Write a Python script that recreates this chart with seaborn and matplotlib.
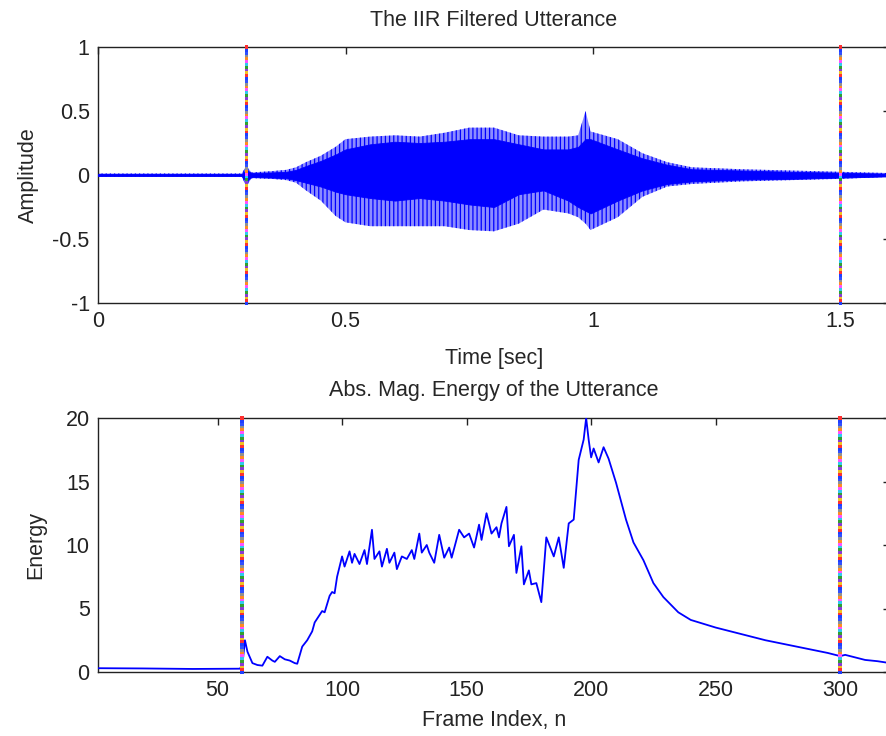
import numpy as np
import pandas as pd
import matplotlib
matplotlib.use("Agg")
import matplotlib.pyplot as plt
import seaborn as sns
from matplotlib.ticker import FormatStrFormatter

# ---------------- data ----------------
# top panel: envelope of the filtered utterance (time in seconds)
t_sec = [0.00, 0.29, 0.30, 0.31, 0.35, 0.38, 0.40, 0.42, 0.45, 0.48, 0.50,
         0.55, 0.60, 0.65, 0.70, 0.75, 0.80, 0.85, 0.90, 0.95, 0.97, 0.985,
         0.995, 1.05, 1.10, 1.15, 1.20, 1.30, 1.40, 1.50, 1.60]
upper_peak = [0.012, 0.012, 0.07, 0.02, 0.03, 0.04, 0.06, 0.10, 0.15, 0.22, 0.28,
              0.30, 0.31, 0.30, 0.33, 0.37, 0.37, 0.31, 0.30, 0.30, 0.31, 0.50,
              0.34, 0.28, 0.17, 0.10, 0.06, 0.045, 0.035, 0.025, 0.015]
lower_peak = [-0.012, -0.012, -0.09, -0.025, -0.03, -0.04, -0.06, -0.12, -0.20, -0.32, -0.37,
              -0.40, -0.40, -0.40, -0.40, -0.43, -0.44, -0.38, -0.27, -0.30, -0.33, -0.38,
              -0.43, -0.33, -0.17, -0.09, -0.07, -0.05, -0.04, -0.03, -0.015]
upper_core = [0.008, 0.008, 0.04, 0.015, 0.02, 0.025, 0.04, 0.07, 0.11, 0.16, 0.20,
              0.24, 0.26, 0.25, 0.26, 0.28, 0.28, 0.24, 0.20, 0.20, 0.22, 0.28,
              0.28, 0.20, 0.13, 0.08, 0.045, 0.035, 0.025, 0.018, 0.01]
lower_core = [-0.008, -0.008, -0.05, -0.015, -0.02, -0.025, -0.04, -0.06, -0.09, -0.13, -0.15,
              -0.18, -0.20, -0.18, -0.20, -0.23, -0.25, -0.15, -0.12, -0.20, -0.25, -0.28,
              -0.30, -0.20, -0.12, -0.07, -0.05, -0.035, -0.03, -0.02, -0.01]
time_markers = [0.3, 1.5]

# bottom panel: absolute magnitude energy per frame
frame_n = [1, 20, 40, 59, 60, 61, 62, 64, 66, 68, 70, 72, 73, 75, 77, 79, 81, 82,
           84, 86, 88, 89, 91, 92, 93, 95, 96, 97, 98, 99, 100, 101, 103, 104, 105,
           107, 109, 110, 112, 113, 115, 116, 118, 119, 121, 122, 124, 126, 128, 129,
           131, 132, 134, 135, 137, 139, 141, 143, 144, 147, 149, 151, 153, 155, 156,
           158, 160, 162, 163, 164, 166, 167, 169, 170, 172, 173, 175, 176, 178, 180,
           182, 185, 187, 189, 191, 193, 195, 197, 198, 199, 200, 201, 203, 205, 207,
           210, 214, 217, 221, 225, 229, 235, 240, 250, 260, 270, 280, 290, 295, 300,
           302, 305, 310, 315, 320]
energy = [0.30, 0.28, 0.24, 0.26, 0.6, 2.5, 1.6, 0.7, 0.55, 0.5, 1.2, 0.9, 0.8, 1.25, 1.0, 0.9, 0.7, 0.65,
          2.0, 2.5, 3.2, 3.9, 4.5, 4.8, 4.7, 6.0, 6.3, 6.2, 7.5, 8.3, 9.1, 8.3, 9.5, 8.6, 9.3,
          8.5, 9.6, 8.5, 11.2, 8.9, 9.5, 8.3, 9.7, 8.6, 9.4, 8.1, 9.1, 8.9, 9.6, 8.9,
          10.9, 9.4, 10.0, 9.4, 8.6, 10.8, 9.0, 9.8, 9.0, 11.2, 10.6, 10.9, 9.8, 11.6, 10.4,
          12.5, 10.9, 11.4, 10.6, 11.7, 13.0, 9.9, 10.8, 7.8, 9.9, 6.9, 8.0, 6.9, 7.0, 5.5,
          10.6, 9.1, 10.6, 8.2, 11.7, 12.0, 16.7, 18.3, 20.0, 18.3, 16.9, 17.6, 16.5, 17.7, 16.8,
          14.9, 12.0, 10.2, 8.8, 7.0, 5.9, 4.7, 4.1, 3.5, 3.0, 2.5, 2.1, 1.7, 1.5, 1.25,
          1.35, 1.2, 0.95, 0.85, 0.7]
frame_markers = [60, 300]

top_xticks = [0, 0.5, 1, 1.5]
top_yticks = [-1, -0.5, 0, 0.5, 1]
bot_xticks = [50, 100, 150, 200, 250, 300]
bot_yticks = [0, 5, 10, 15, 20]

marker_colors = ["#1f3fff", "#ff3030", "#f0c020", "#8a3ad2", "#30a030", "#30c8f0",
                 "#ff50ff", "#ff8a20", "#909090", "#3050ff"]

# ---------------- style ----------------
sns.set_theme(style="white")
plt.rcParams["font.family"] = ["Liberation Sans", "DejaVu Sans"]
plt.rcParams["axes.unicode_minus"] = False
plt.rcParams["hatch.linewidth"] = 0.9
plt.rcParams["hatch.color"] = "#0000ff"

FS = 15.5

fig = plt.figure(figsize=(8.86, 7.36), dpi=100)
ax1 = fig.add_axes([98 / 886, 1 - 303 / 736, (890 - 98) / 886, 256 / 736])
ax2 = fig.add_axes([98 / 886, 1 - 672 / 736, (890 - 98) / 886, 254 / 736])


def marker_line(ax, x, y0, y1, n=92):
    ys = np.linspace(y0, y1, n)
    cols = [marker_colors[i % len(marker_colors)] for i in range(n)]
    ax.scatter(np.full(n, x), ys, s=8, marker="s", c=cols, linewidths=0, zorder=5,
               clip_on=False)


# ---- top panel ----
wave = pd.DataFrame({"t": t_sec, "up": upper_peak, "lp": lower_peak,
                     "uc": upper_core, "lc": lower_core})
ax1.fill_between(wave["t"], wave["lp"], wave["up"], facecolor="#8c8cff",
                 edgecolor="#0000ff", hatch="||||", linewidth=0, zorder=2)
ax1.fill_between(wave["t"], wave["lc"], wave["uc"], facecolor="#0000ff",
                 edgecolor="#0000ff", linewidth=0.6, zorder=3)
sns.lineplot(data=wave, x="t", y=np.zeros(len(t_sec)), ax=ax1, color="#0000ff",
             linewidth=1.0, zorder=3)
for tm in time_markers:
    marker_line(ax1, tm, -1, 1)

ax1.set_xlim(0, 1.6)
ax1.set_ylim(-1, 1)
ax1.set_xticks(top_xticks)
ax1.set_yticks(top_yticks)
ax1.xaxis.set_major_formatter(FormatStrFormatter("%g"))
ax1.yaxis.set_major_formatter(FormatStrFormatter("%g"))
ax1.set_title("The IIR Filtered Utterance", fontsize=FS, pad=15)
ax1.set_xlabel("Time [sec]", fontsize=FS, labelpad=11)
ax1.set_ylabel("Amplitude", fontsize=FS, labelpad=10)

# ---- bottom panel ----
en = pd.DataFrame({"n": frame_n, "E": energy})
sns.lineplot(data=en, x="n", y="E", ax=ax2, color="#0000ff", linewidth=1.3, zorder=3)
for fm in frame_markers:
    marker_line(ax2, fm, 0, 20)

ax2.set_xlim(2, 320)
ax2.set_ylim(0, 20)
ax2.set_xticks(bot_xticks)
ax2.set_yticks(bot_yticks)
ax2.set_title("Abs. Mag. Energy of the Utterance", fontsize=FS, pad=16)
ax2.set_xlabel("Frame Index, n", fontsize=FS, labelpad=6)
ax2.set_ylabel("Energy", fontsize=FS, labelpad=14)

for ax in (ax1, ax2):
    ax.tick_params(direction="in", top=True, right=True, length=5, width=1.0,
                   labelsize=FS, pad=6, colors="#222222")
    for sp in ax.spines.values():
        sp.set_color("#222222")
        sp.set_linewidth(1.0)
    ax.set_facecolor("white")
    ax.grid(False)

fig.savefig("out.png", dpi=100)
